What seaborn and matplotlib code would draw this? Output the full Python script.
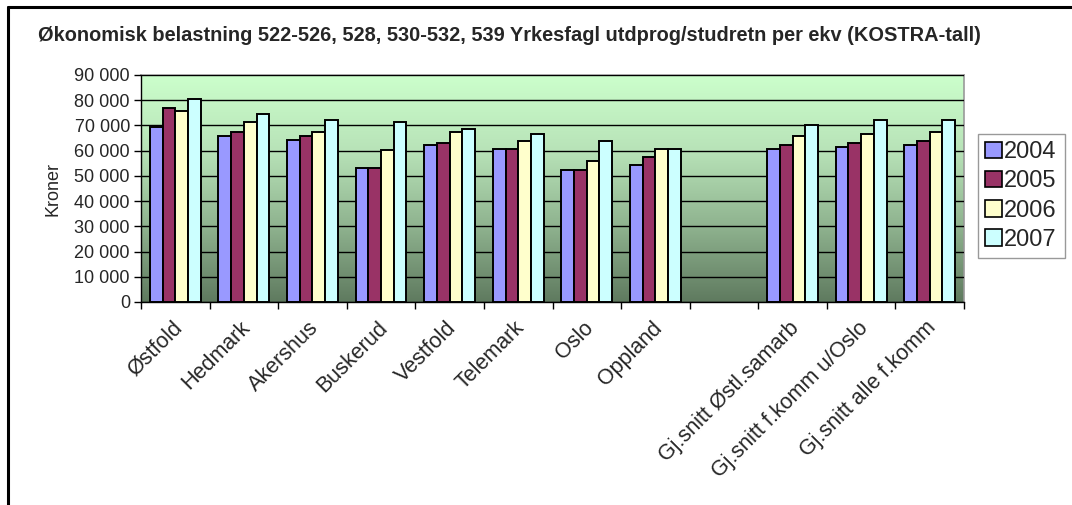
import matplotlib
matplotlib.use("Agg")
import matplotlib.pyplot as plt
import matplotlib.transforms as mtransforms
import numpy as np
import pandas as pd
import seaborn as sns
from matplotlib.colors import LinearSegmentedColormap
from matplotlib.lines import Line2D
from matplotlib.ticker import FuncFormatter, MultipleLocator

regions = [
    "Østfold", "Hedmark", "Akershus", "Buskerud", "Vestfold", "Telemark",
    "Oslo", "Oppland", "Gj.snitt Østl.samarb", "Gj.snitt f.komm u/Oslo",
    "Gj.snitt alle f.komm",
]
years = ["2004", "2005", "2006", "2007"]

values_2004 = [69500, 65800, 64400, 53000, 62300, 60700, 52400, 54500, 60800, 61600, 62300]
values_2005 = [77000, 67300, 65800, 53000, 62900, 60700, 52400, 57300, 62300, 63100, 63700]
values_2006 = [75800, 71500, 67300, 60200, 67300, 63700, 55900, 60800, 65800, 66600, 67300]
values_2007 = [80600, 74400, 72200, 71500, 68600, 66500, 63700, 60800, 70100, 72200, 72200]

year_colors = ["#9999FF", "#993366", "#FFFFCC", "#CCFFFF"]

# empty slot between the counties and the averages
order = regions[:8] + [" "] + regions[8:]

rows = []
for year, vals in zip(years, [values_2004, values_2005, values_2006, values_2007]):
    for region, v in zip(regions, vals):
        rows.append({"region": region, "year": year, "value": v})
df = pd.DataFrame(rows)

sns.set_theme(style="white")
plt.rcParams["font.family"] = ["Liberation Sans", "DejaVu Sans"]

W, H = 1072, 505
fig = plt.figure(figsize=(W / 100, H / 100), dpi=100)
ax = fig.add_axes([141 / W, 1 - 302 / H, (964 - 141) / W, (302 - 75) / H])

sns.barplot(
    data=df, x="region", y="value", hue="year", order=order, hue_order=years,
    palette=dict(zip(years, year_colors)), width=0.74, gap=0,
    edgecolor="black", linewidth=1.4, saturation=1, ax=ax, zorder=3,
)

ax.set_xlim(-0.5, len(order) - 0.5)
ax.set_ylim(0, 90000)

# gradient plot area
cmap = LinearSegmentedColormap.from_list("bg", ["#5F7A5F", "#8FB38F", "#B8E3B8", "#CCFFCC"])
grad = np.linspace(0, 1, 256).reshape(-1, 1)
ax.imshow(grad, cmap=cmap, origin="lower", aspect="auto",
          extent=[-0.5, len(order) - 0.5, 0, 90000], zorder=0)

ax.yaxis.set_major_locator(MultipleLocator(10000))
ax.yaxis.set_major_formatter(FuncFormatter(lambda v, _: f"{int(v):,}".replace(",", " ")))
ax.grid(axis="y", color="black", linewidth=1, zorder=1)
ax.set_axisbelow(False)
for gl in ax.get_ygridlines():
    gl.set_zorder(1)

ax.set_xticks(np.arange(len(order) + 1) - 0.5, minor=True)
ax.tick_params(axis="x", which="major", length=0, pad=11, labelsize=15.5)
ax.tick_params(axis="x", which="minor", length=5, width=1, color="black", bottom=True)
ax.tick_params(axis="y", length=5, width=1, color="black", left=True, labelsize=13, pad=3)
ax.set_xticks(range(len(order)))
ax.set_xticklabels(order, rotation=45, ha="right", rotation_mode="anchor")
shift = mtransforms.ScaledTranslation(-4 / 100, 0, fig.dpi_scale_trans)
for lbl in ax.get_xticklabels():
    lbl.set_transform(lbl.get_transform() + shift)

for side in ["top", "right"]:
    ax.spines[side].set_color("#999999")
    ax.spines[side].set_linewidth(1.2)
for side in ["left", "bottom"]:
    ax.spines[side].set_color("black")
    ax.spines[side].set_linewidth(1)

ax.set_xlabel("")
ax.set_ylabel("Kroner", fontsize=13, labelpad=9)

leg = ax.legend(
    loc="center left", bbox_to_anchor=(978 / W, 1 - 261 / H, (1065 - 978) / W, (261 - 131) / H),
    bbox_transform=fig.transFigure, fontsize=17, frameon=True, fancybox=False,
    handlelength=0.7, handleheight=0.7, handletextpad=0.1, labelspacing=0.3,
    borderpad=0.3, borderaxespad=0, title=None, mode="expand",
)
leg.get_frame().set_edgecolor("#808080")
leg.get_frame().set_linewidth(1)
for h in leg.legend_handles:
    h.set_edgecolor("black")
    h.set_linewidth(1.2)

fig.text(38 / W, 1 - 35 / H,
         "Økonomisk belastning 522-526, 528, 530-532, 539 Yrkesfagl utdprog/studretn per ekv (KOSTRA-tall)",
         fontsize=14.45, fontweight="bold", ha="left", va="center")

# chart frame: top and left edges
fig.add_artist(Line2D([8 / W, 1], [1 - 7 / H, 1 - 7 / H], transform=fig.transFigure, color="black", linewidth=2.2))
fig.add_artist(Line2D([8 / W, 8 / W], [0, 1 - 7 / H], transform=fig.transFigure, color="black", linewidth=2.2))

fig.savefig("out.png", dpi=100)
